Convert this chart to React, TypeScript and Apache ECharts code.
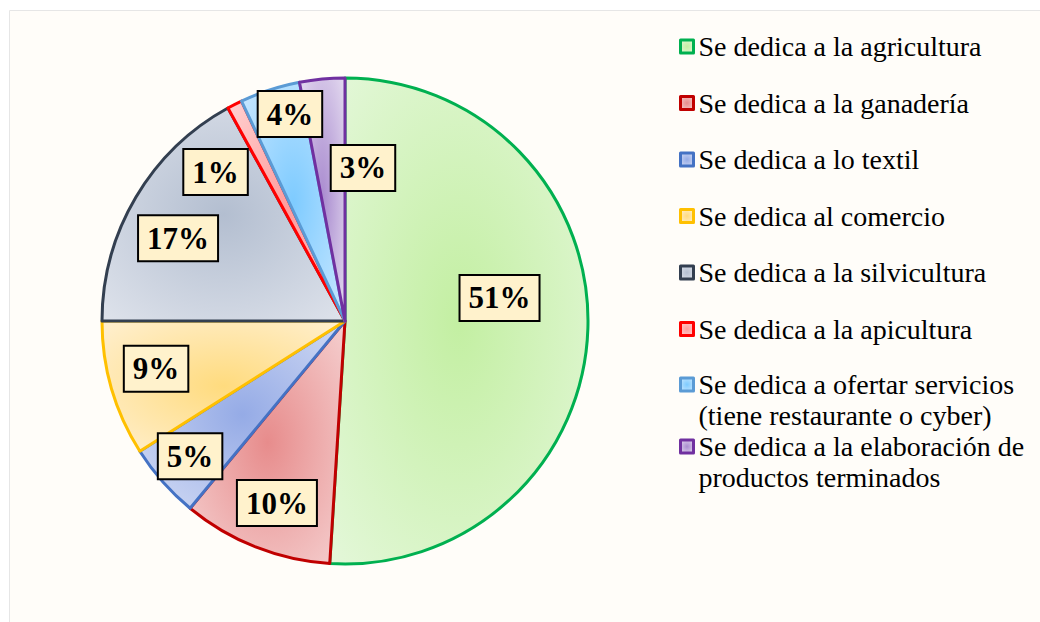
import React, { useEffect, useRef } from "react";
import * as echarts from "echarts";

// ---- data ----
const CATEGORIES = [
  "Se dedica a la agricultura",
  "Se dedica a la ganadería",
  "Se dedica a lo textil",
  "Se dedica al comercio",
  "Se dedica a la silvicultura",
  "Se dedica a la apicultura",
  "Se dedica a ofertar servicios\n(tiene restaurante o cyber)",
  "Se dedica a la elaboración de\nproductos terminados",
];
const VALUES = [51, 10, 5, 9, 17, 1, 4, 3];

// ---- styles ----
const BORDER_COLORS = ["#00b050", "#c00000", "#4472c4", "#ffc000", "#333f50", "#ff0000", "#5b9bd5", "#7030a0"];
const FILL_INNER = ["#c3efa2", "#e78c8c", "#95abe6", "#ffdb7e", "#b3bed0", "#ff9c9c", "#7ecbff", "#a98bcf"];
const FILL_OUTER = ["#e6f8dd", "#f6d4d4", "#d6def5", "#fff1d6", "#e1e5ed", "#ffd4d4", "#d0eaff", "#e8e0f2"];
// label placement: fraction of radius, angular nudge (deg) from slice middle
const LABEL_RADIUS = [0.643, 0.8, 0.846, 0.802, 0.767, 0.812, 0.881, 0.634];
const LABEL_NUDGE = [-10.3, -1.1, 0.3, 2, -4.2, -14, 3.1, 12.1];

const CX = 345;
const CY = 321;
const R = 243;
const SERIF = "'Liberation Serif', 'Times New Roman', serif";

export default function App() {
  const ref = useRef<HTMLDivElement>(null);
  useEffect(() => {
    if (!ref.current) return;
    const chart = echarts.init(ref.current, undefined, { renderer: "svg" });
    const total = VALUES.reduce((a, b) => a + b, 0);
    const mids: number[] = [];
    let acc = 0;
    VALUES.forEach((v) => {
      mids.push(((acc + v / 2) / total) * 360);
      acc += v;
    });

    const legendCommon = {
      orient: "vertical" as const,
      left: 679,
      padding: 0,
      itemWidth: 13,
      itemHeight: 13,
      icon: "rect",
      selectedMode: false,
      itemStyle: { borderWidth: 3 },
    };
    const legendText = { fontFamily: SERIF, fontSize: 28, lineHeight: 31, color: "#000" };

    chart.setOption({
      animation: false,
      backgroundColor: "#ffffff",
      graphic: [
        {
          type: "rect",
          z: -10,
          silent: true,
          shape: { x: 9.5, y: 10.5, width: 1100, height: 700 },
          style: { fill: "#fffdf9", stroke: "#e6e6e6", lineWidth: 1 },
        },
      ],
      legend: [
        { ...legendCommon, data: CATEGORIES.slice(0, 6), top: 31, itemGap: 25.5, textStyle: legendText },
        {
          ...legendCommon,
          data: [CATEGORIES[6]],
          top: 338,
          formatter: (n: string) => "\n" + n,
          textStyle: legendText,
        },
        {
          ...legendCommon,
          data: [CATEGORIES[7]],
          top: 400,
          formatter: (n: string) => "\n" + n,
          textStyle: legendText,
        },
      ],
      series: [
        {
          type: "pie",
          center: [CX, CY],
          radius: R,
          startAngle: 90,
          clockwise: true,
          avoidLabelOverlap: false,
          emphasis: { disabled: true },
          labelLine: { show: false },
          label: {
            show: true,
            position: "inside",
            formatter: (p: any) => `${p.value}%`,
            fontFamily: SERIF,
            fontWeight: "bold",
            fontSize: 31,
            lineHeight: 32,
            color: "#000",
            backgroundColor: "#fff2cc",
            borderColor: "#000",
            borderWidth: 2,
            padding: [6, 8],
          },
          labelLayout: (p: any) => {
            const i = p.dataIndex;
            const a = ((mids[i] + LABEL_NUDGE[i]) * Math.PI) / 180;
            const d = R * LABEL_RADIUS[i];
            return { x: CX + d * Math.sin(a), y: CY - d * Math.cos(a), align: "center", verticalAlign: "middle" };
          },
          data: CATEGORIES.map((name, i) => ({
            name,
            value: VALUES[i],
            itemStyle: {
              color: {
                type: "radial",
                x: 0.5,
                y: 0.5,
                r: 0.75,
                colorStops: [
                  { offset: 0, color: FILL_INNER[i] },
                  { offset: 1, color: FILL_OUTER[i] },
                ],
              },
              borderColor: BORDER_COLORS[i],
              borderWidth: 3,
            },
          })),
        },
      ],
    });
    return () => chart.dispose();
  }, []);
  return <div ref={ref} style={{ position: "fixed", left: 0, top: 0, width: 1040, height: 622 }} />;
}
